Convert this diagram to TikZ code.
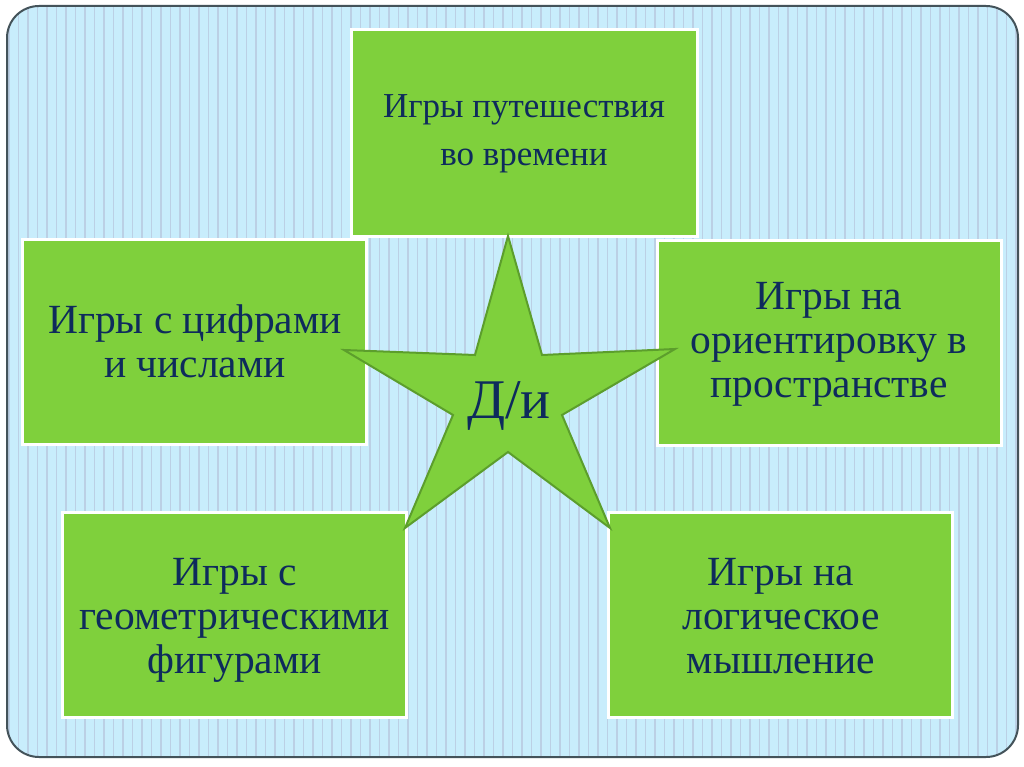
\documentclass[tikz,border=0pt]{standalone}
\usepackage{fontspec}
\setmainfont{Liberation Serif}
\definecolor{bgblue}{HTML}{C8EDFC}
\definecolor{stripe}{HTML}{BBD0E5}
\definecolor{frame}{HTML}{44535A}
\definecolor{leaf}{HTML}{7FD03C}
\definecolor{leafdark}{HTML}{5C9E2C}
\definecolor{ink}{HTML}{0E2B5C}
\tikzset{
  gbox/.style={draw=white, line width=3pt, fill=leaf, inner sep=0pt,
    minimum width=344pt, minimum height=205pt},
  gtext/.style={inner sep=0pt, align=center, text=ink, anchor=base,
    font=\fontsize{41.5}{44}\selectfont},
}
\begin{document}
\begin{tikzpicture}[x=1pt,y=-1pt]
\useasboundingbox (0,0) rectangle (1024,767);
\fill[white] (0,0) rectangle (1024,767);
% panel
\begin{scope}
\clip[rounded corners=32pt] (7,6) rectangle (1018,757);
\fill[bgblue] (7,6) rectangle (1018,757);
\foreach \i in {0,...,107} {
  \draw[stripe, line width=1.4pt] ({9+\i*9.5},6) -- ({9+\i*9.5},757);
}
\end{scope}
\draw[frame, line width=2pt, rounded corners=32pt] (7,6) rectangle (1018,757);
% boxes
\node[gbox, minimum height=206pt, minimum width=346pt] (top) at (524,133) {};
\node[gbox] (ml) at (194.5,342) {};
\node[gbox] (mr) at (829,342.5) {};
\node[gbox] (bl) at (234.5,615) {};
\node[gbox] (br) at (780.5,615) {};
% texts (anchored at last baseline)
\node[gtext, font=\fontsize{35}{48}\selectfont] (ttop) at (524,166) {Игры путешествия\\во времени};
\node[gtext] (tml) at (195,377) {Игры с цифрами\\и числами};
\node[gtext] (tmr) at (829,397) {Игры на\\ориентировку в\\пространстве};
\node[gtext] (tbl) at (234.5,673) {Игры с\\геометрическими\\фигурами};
\node[gtext] (tbr) at (781,673) {Игры на\\логическое\\мышление};
% star
\draw[leafdark, fill=leaf, line width=2pt, line join=miter]
  (508,236) -- (542,355) -- (675,349) -- (562,415) -- (610,528)
  -- (508,452) -- (405,528) -- (453,415) -- (344,350) -- (475,355) -- cycle;
\node[text=ink, font=\fontsize{56}{60}\selectfont] (di) at (509,406) {Д/и};
\end{tikzpicture}
\end{document}
